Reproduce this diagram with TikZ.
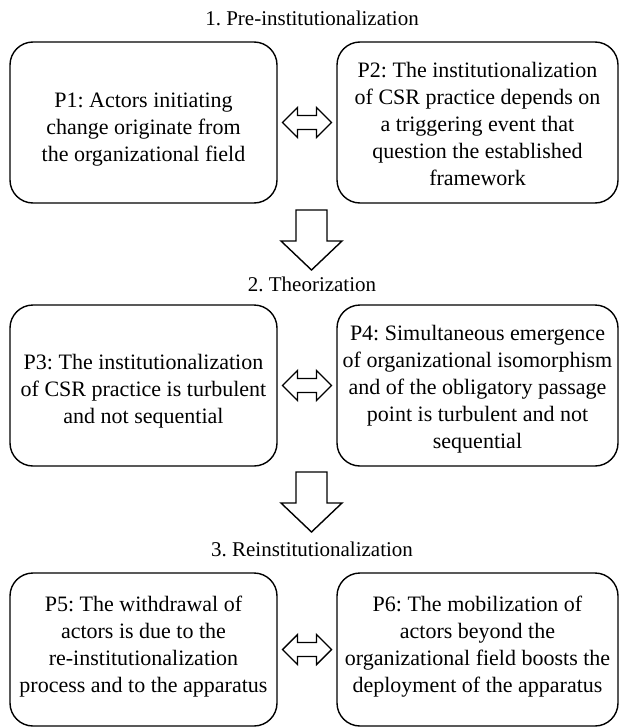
\documentclass[tikz,border=0pt]{standalone}
\usepackage{fontspec}
\setmainfont{Liberation Serif}
\usetikzlibrary{calc}
\tikzset{
  pbox/.style={draw, line width=1.4pt, rounded corners=23pt, inner sep=0pt},
  ptext/.style={align=center, font=\fontsize{22}{27}\selectfont, inner sep=0pt},
  phase/.style={font=\fontsize{21}{24}\selectfont, inner sep=0pt},
  hollow/.style={draw, line width=1.4pt, fill=white, line join=miter},
  pics/dblarrow/.style={code={
    \draw[hollow] (-24.5,0) -- (-9.5,-15) -- (-9.5,-7) -- (9.5,-7) -- (9.5,-15)
      -- (24.5,0) -- (9.5,15) -- (9.5,7) -- (-9.5,7) -- (-9.5,15) -- cycle;}},
  pics/downarrow/.style={code={
    \draw[hollow] (-15.5,0) -- (15.5,0) -- (15.5,31) -- (30.5,31) -- (0,60)
      -- (-30.5,31) -- (-15.5,31) -- cycle;}}
}
\begin{document}
\frenchspacing
\begin{tikzpicture}[x=1pt,y=-1pt]
\useasboundingbox (0,0) rectangle (620,728);
% titles
\node[phase] (t1) at (312,18) {1. Pre-institutionalization};
\node[phase] (t2) at (312,284) {2. Theorization};
\node[phase] (t3) at (312,549) {3. Reinstitutionalization};
% row 1
\node[pbox, minimum width=267pt, minimum height=161pt] (p1) at (143.5,122.5) {};
\node[ptext] (p1t) at ($(p1.center)+(0,7)$)
  {P1: Actors initiating\\change originate from\\the organizational field};
\node[pbox, minimum width=281pt, minimum height=161pt] (p2) at (477.5,122.5) {};
\node[ptext] (p2t) at ($(p2.center)+(0,1)$)
  {P2: The institutionalization\\of CSR practice depends on\\a triggering event that\\question the established\\framework};
% row 2
\node[pbox, minimum width=267pt, minimum height=161pt] (p3) at (143.5,385.5) {};
\node[ptext] (p3t) at ($(p3.center)+(0,6)$)
  {P3: The institutionalization\\of CSR practice is turbulent\\and not sequential};
\node[pbox, minimum width=281pt, minimum height=161pt] (p4) at (477.5,385.5) {};
\node[ptext] (p4t) at ($(p4.center)+(0,4)$)
  {P4: Simultaneous emergence\\of organizational isomorphism\\and of the obligatory passage\\point is turbulent and not\\sequential};
% row 3
\node[pbox, minimum width=267pt, minimum height=153pt] (p5) at (143.5,649.5) {};
\node[ptext] (p5t) at ($(p5.center)+(0,-3)$)
  {P5: The withdrawal of\\actors is due to the\\re-institutionalization\\process and to the apparatus};
\node[pbox, minimum width=281pt, minimum height=153pt] (p6) at (477.5,649.5) {};
\node[ptext] (p6t) at ($(p6.center)+(0,-3)$)
  {P6: The mobilization of\\actors beyond the\\organizational field boosts the\\deployment of the apparatus};
% double arrows between boxes
\path ($(p1.east)!0.5!(p2.west)$) pic {dblarrow};
\path ($(p3.east)!0.5!(p4.west)$) pic {dblarrow};
\path ($(p5.east)!0.5!(p6.west)$) pic {dblarrow};
% down arrows
\path (311.5,210) pic {downarrow};
\path (311.5,472) pic {downarrow};
\end{tikzpicture}
\end{document}
